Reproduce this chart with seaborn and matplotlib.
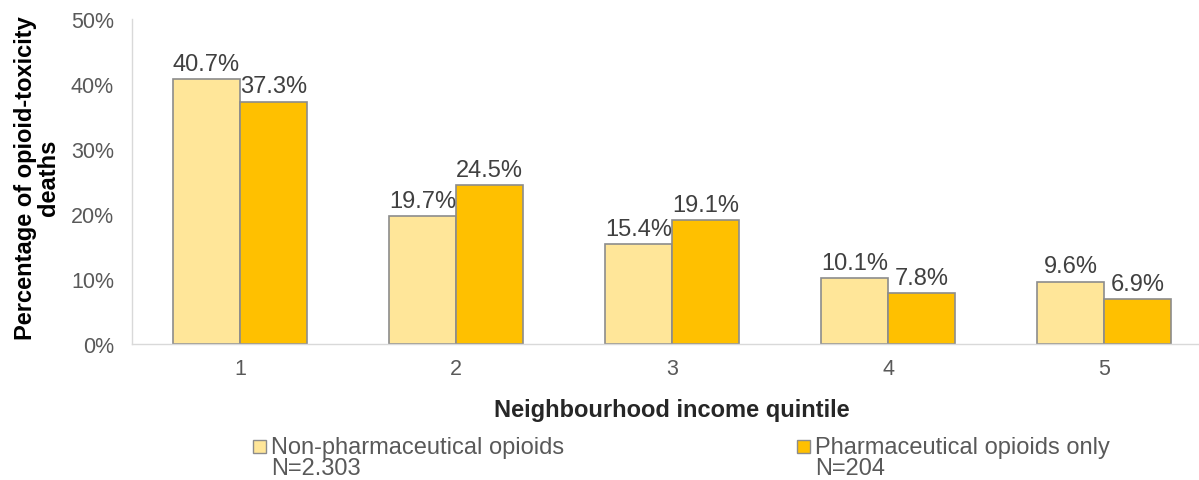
import matplotlib
matplotlib.use("Agg")
import matplotlib.pyplot as plt
import seaborn as sns
import pandas as pd
from matplotlib.patches import Rectangle

quintiles = ["1", "2", "3", "4", "5"]
non_pharma = [40.7, 19.7, 15.4, 10.1, 9.6]
pharma_only = [37.3, 24.5, 19.1, 7.8, 6.9]
series_names = ["Non-pharmaceutical opioids\nN=2.303", "Pharmaceutical opioids only\nN=204"]
colors = ["#FFE699", "#FFC000"]

df = pd.DataFrame({
    "quintile": quintiles * 2,
    "value": non_pharma + pharma_only,
    "series": [series_names[0]] * 5 + [series_names[1]] * 5,
})

sns.set_theme(style="white")
plt.rcParams['font.family'] = ['Liberation Sans', 'DejaVu Sans']

W, H = 1199, 481
fig = plt.figure(figsize=(W / 100, H / 100), dpi=100)
ax = fig.add_axes([132 / W, (H - 345) / H, 1080 / W, 325 / H])

sns.barplot(data=df, x="quintile", y="value", hue="series", palette=colors,
            width=0.62, gap=0, edgecolor="#8C8C8C", linewidth=1.2, ax=ax,
            legend=False, saturation=1)

ax.set_ylim(0, 50)
ax.set_yticks([0, 10, 20, 30, 40, 50])
ax.set_yticklabels([f"{v}%" for v in [0, 10, 20, 30, 40, 50]])
ax.tick_params(axis="both", labelsize=15.5, colors="#595959", length=0)
ax.tick_params(axis="y", pad=13)
ax.tick_params(axis="x", pad=10)
for s in ["top", "right"]:
    ax.spines[s].set_visible(False)
for s in ["left", "bottom"]:
    ax.spines[s].set_color("#D9D9D9")
    ax.spines[s].set_linewidth(1)

for cont in ax.containers:
    ax.bar_label(cont, labels=[f"{v:.1f}%" for v in cont.datavalues],
                 fontsize=17, color="#404040", padding=3)

ax.set_ylabel("")
ax.set_xlabel("")
fig.text(37 / W, 1 - 178 / H, "Percentage of opioid-toxicity\ndeaths", rotation=90,
         ha="center", va="center", fontsize=17, fontweight="bold", color="black",
         linespacing=0.95, multialignment="center")
fig.text(672 / W, 1 - 410 / H, "Neighbourhood income quintile", ha="center", va="center",
         fontsize=17, fontweight="bold", color="#262626")

# legend drawn manually
legend_x = [253, 797]
for x0, c, name in zip(legend_x, colors, series_names):
    fig.patches.append(Rectangle((x0 / W, 1 - 454 / H), 13 / W, 13 / H,
                                 transform=fig.transFigure, facecolor=c,
                                 edgecolor="#8C8C8C", linewidth=1))
    first, second = name.split("\n")
    fig.text((x0 + 18) / W, 1 - 448 / H, first, ha="left", va="center",
             fontsize=17, color="#595959")
    fig.text((x0 + 18) / W, 1 - 469 / H, second, ha="left", va="center",
             fontsize=17, color="#595959")

fig.savefig("out.png", dpi=100)
